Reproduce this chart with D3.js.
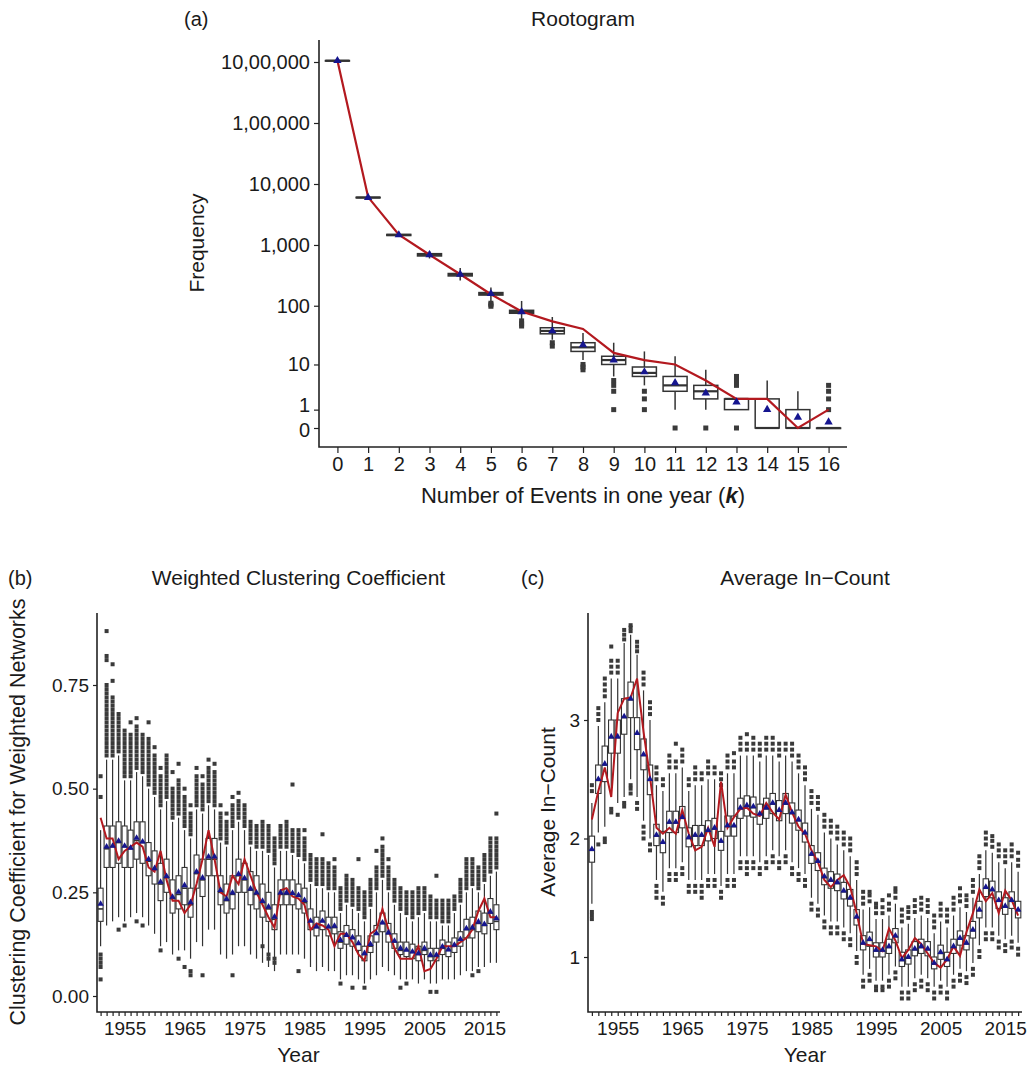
<!DOCTYPE html>
<html><head><meta charset="utf-8">
<script src="https://cdn.jsdelivr.net/npm/d3@7"></script>
<style>body{margin:0;background:#fff}svg text{font-family:"Liberation Sans",Arial,Helvetica,sans-serif;fill:#1a1a1a}</style>
</head><body><svg id="c" width="1034" height="1067"></svg>
<script>
// ---------- Panel (a): Rootogram ----------
const kCats = [0,1,2,3,4,5,6,7,8,9,10,11,12,13,14,15,16];
const obsA  = [1060000,6100,1470,690,330,155,80,55,41,16,12,10,5,2,2,0,1];
const meanA = [1050000,6000,1460,690,330,158,79,38,22,12,7.3,4.5,2.75,1.67,1,0.5,0.25];
const q1A   = [1045000,5950,1430,660,310,150,75,34,17,10,6,3,2,1,0,0,0];
const medA  = [1050000,6000,1460,690,325,157,79,38,20,12,7,4,3,2,0,0,0];
const q3A   = [1055000,6050,1490,720,340,165,84,43,24,14,9,6,4,2,2,1,0];
const loA   = [1040000,5800,1380,600,260,120,60,27,12,6,4,1,1,1,0,0,0];
const hiA   = [1060000,6250,1550,800,420,200,120,65,35,24,17,14,8,2,5,3,0];
const outA  = [[],[],[],[],[],[110,104,98],[56,50,46],[24,21],[10,9,8],[5,4,3,1],[3,2,1],[0],[0],[6,5,4,0],[],[],[4,3,2,1]];
const yTickValsA = [0,1,10,100,1000,10000,100000,1000000];
const yTickLabsA = ["0","1","10","100","1,000","10,000","1,00,000","10,00,000"];

// ---------- Panel (b): Weighted Clustering Coefficient ----------
const years = d3.range(1951, 2018);
const yearLabels = [1955,1965,1975,1985,1995,2005,2015];
const meanB = [0.222,0.360,0.362,0.374,0.362,0.357,0.381,0.372,0.330,0.308,0.275,0.289,0.239,0.251,0.267,0.226,0.300,0.285,0.336,0.336,0.255,0.234,0.249,0.294,0.284,0.259,0.249,0.229,0.215,0.191,0.249,0.249,0.248,0.243,
0.231,0.181,0.167,0.181,0.167,0.169,0.135,0.147,0.141,0.127,0.103,0.125,0.151,0.177,0.153,0.133,0.115,0.111,0.107,0.103,0.115,0.099,0.099,0.119,0.112,0.123,0.137,0.163,0.165,0.179,0.173,0.203,0.187];
const q1B = [0.18,0.31,0.31,0.32,0.31,0.31,0.33,0.32,0.29,0.27,0.23,0.25,0.20,0.21,0.22,0.19,0.26,0.24,0.29,0.29,0.22,0.20,0.21,0.25,0.25,0.22,0.21,0.19,0.18,0.16,0.22,0.22,0.22,0.21,
0.20,0.16,0.145,0.16,0.145,0.15,0.115,0.125,0.12,0.11,0.085,0.105,0.13,0.155,0.13,0.115,0.10,0.095,0.09,0.085,0.10,0.085,0.085,0.10,0.095,0.105,0.12,0.14,0.14,0.155,0.15,0.175,0.16];
const medB = [0.21,0.355,0.36,0.37,0.36,0.355,0.375,0.37,0.325,0.305,0.27,0.285,0.235,0.245,0.26,0.22,0.295,0.28,0.33,0.33,0.25,0.23,0.245,0.29,0.28,0.255,0.245,0.225,0.21,0.185,0.245,0.245,0.245,0.24,
0.225,0.18,0.165,0.18,0.165,0.165,0.13,0.145,0.14,0.125,0.10,0.12,0.15,0.175,0.15,0.13,0.11,0.11,0.105,0.10,0.11,0.095,0.095,0.115,0.11,0.12,0.135,0.16,0.16,0.175,0.17,0.20,0.18];
const q3B = [0.26,0.41,0.41,0.42,0.41,0.40,0.42,0.42,0.37,0.35,0.32,0.33,0.28,0.29,0.31,0.26,0.34,0.33,0.38,0.38,0.29,0.27,0.29,0.33,0.32,0.30,0.29,0.27,0.25,0.22,0.28,0.28,0.28,0.27,
0.26,0.21,0.19,0.205,0.19,0.19,0.155,0.17,0.16,0.145,0.12,0.145,0.17,0.20,0.175,0.15,0.13,0.13,0.125,0.12,0.13,0.115,0.115,0.135,0.13,0.14,0.155,0.185,0.19,0.205,0.20,0.235,0.22];
const loB = [0.12,0.17,0.18,0.19,0.18,0.19,0.20,0.19,0.17,0.15,0.12,0.13,0.10,0.11,0.11,0.09,0.13,0.12,0.16,0.16,0.10,0.09,0.10,0.12,0.12,0.10,0.09,0.08,0.07,0.06,0.10,0.10,0.10,0.10,
0.09,0.07,0.06,0.07,0.06,0.06,0.04,0.05,0.05,0.04,0.03,0.04,0.05,0.07,0.06,0.05,0.04,0.04,0.04,0.03,0.04,0.03,0.03,0.04,0.04,0.04,0.05,0.06,0.06,0.07,0.07,0.08,0.08];
const hiB = [0.40,0.57,0.57,0.58,0.52,0.52,0.54,0.53,0.50,0.48,0.45,0.47,0.42,0.43,0.40,0.38,0.45,0.44,0.46,0.45,0.37,0.36,0.40,0.42,0.40,0.36,0.35,0.35,0.34,0.31,0.35,0.35,0.34,0.33,
0.32,0.27,0.26,0.26,0.25,0.25,0.20,0.22,0.21,0.20,0.18,0.21,0.25,0.28,0.25,0.22,0.20,0.19,0.18,0.19,0.20,0.18,0.18,0.17,0.17,0.20,0.22,0.25,0.26,0.25,0.27,0.29,0.30];
const obsB = [0.43,0.38,0.38,0.33,0.35,0.36,0.37,0.36,0.31,0.30,0.35,0.28,0.23,0.23,0.20,0.22,0.27,0.33,0.40,0.33,0.25,0.24,0.29,0.27,0.33,0.29,0.25,0.22,0.19,0.165,0.255,0.26,0.24,0.235,
0.22,0.16,0.175,0.17,0.16,0.12,0.15,0.15,0.13,0.10,0.085,0.15,0.16,0.21,0.16,0.115,0.09,0.09,0.09,0.12,0.06,0.065,0.09,0.12,0.12,0.12,0.13,0.14,0.16,0.205,0.235,0.19,0.19];
const outB = [
[0.53,0.48,0.10,0.09,0.08,0.07,0.04],
[0.88,0.82,0.81,0.75,0.74,0.73,0.72,0.71,0.70,0.69,0.68,0.67,0.66,0.65,0.64,0.63,0.62,0.61,0.60,0.59,0.58],
[0.80,0.76,0.72,0.71,0.70,0.69,0.68,0.67,0.66,0.65,0.64,0.63,0.62,0.61,0.60,0.59,0.58],
[0.68,0.67,0.66,0.65,0.64,0.63,0.62,0.61,0.60,0.59,0.16],
[0.64,0.63,0.62,0.61,0.60,0.59,0.58,0.57,0.56,0.55,0.54,0.53,0.17],
[0.66,0.63,0.62,0.61,0.60,0.59,0.58,0.57,0.56,0.55,0.54,0.53],
[0.67,0.65,0.64,0.63,0.62,0.61,0.60,0.59,0.58,0.57,0.56,0.55,0.18],
[0.63,0.62,0.61,0.60,0.59,0.58,0.57,0.56,0.55,0.54,0.17],
[0.66,0.62,0.61,0.60,0.59,0.58,0.57,0.56,0.55,0.54,0.53,0.52,0.51],
[0.60,0.58,0.57,0.56,0.55,0.54,0.53,0.52,0.51,0.50,0.49],
[0.55,0.53,0.52,0.51,0.50,0.49,0.48,0.47,0.46,0.11],
[0.58,0.57,0.56,0.55,0.54,0.53,0.52,0.51,0.50,0.49,0.48],
[0.54,0.50,0.49,0.48,0.47,0.46,0.45,0.44,0.43],
[0.56,0.52,0.51,0.50,0.49,0.48,0.47,0.46,0.45,0.44,0.09],
[0.50,0.48,0.47,0.46,0.45,0.44,0.43,0.42,0.41,0.07],
[0.46,0.44,0.43,0.42,0.41,0.40,0.39,0.06,0.05],
[0.55,0.53,0.52,0.51,0.50,0.49,0.48,0.47,0.46],
[0.53,0.51,0.50,0.49,0.48,0.47,0.46,0.45,0.05],
[0.57,0.55,0.54,0.53,0.52,0.51,0.50,0.49,0.48,0.47],
[0.56,0.54,0.53,0.52,0.51,0.50,0.49,0.48,0.47,0.46],
[0.46,0.44,0.43,0.42,0.41,0.40,0.39,0.38],
[0.44,0.42,0.41,0.40,0.39,0.38,0.37],
[0.48,0.46,0.45,0.44,0.43,0.42,0.41,0.05],
[0.49,0.47,0.46,0.45,0.44,0.43],
[0.46,0.45,0.44,0.43,0.42,0.41],
[0.42,0.41,0.40,0.39,0.38,0.37],
[0.41,0.40,0.39,0.38,0.37,0.36],
[0.42,0.41,0.40,0.39,0.38,0.37,0.36,0.12],
[0.41,0.40,0.39,0.38,0.37,0.36,0.35,0.10,0.09],
[0.38,0.37,0.36,0.35,0.34,0.33,0.32,0.09,0.08],
[0.41,0.40,0.39,0.38,0.37,0.36],
[0.42,0.41,0.40,0.39,0.38,0.37,0.36],
[0.51,0.40,0.39,0.38,0.37,0.36,0.35],
[0.40,0.39,0.38,0.37,0.36,0.35,0.34,0.06],
[0.40,0.38,0.37,0.36,0.35,0.34,0.33],
[0.34,0.33,0.32,0.31,0.30,0.29,0.28],
[0.33,0.32,0.31,0.30,0.29,0.28,0.27],
[0.39,0.33,0.32,0.31,0.30,0.29,0.28,0.27],
[0.32,0.31,0.30,0.29,0.28,0.27,0.26],
[0.33,0.31,0.30,0.29,0.28,0.27,0.26],
[0.26,0.25,0.24,0.23,0.22,0.21,0.03],
[0.29,0.28,0.27,0.26,0.25,0.24,0.23],
[0.28,0.27,0.26,0.25,0.24,0.23,0.22,0.02],
[0.33,0.26,0.25,0.24,0.23,0.22,0.21],
[0.25,0.24,0.23,0.22,0.21,0.20,0.19,0.02],
[0.28,0.27,0.26,0.25,0.24,0.23,0.22],
[0.35,0.31,0.30,0.29,0.28,0.27,0.26],
[0.38,0.36,0.35,0.34,0.33,0.32,0.31,0.30,0.29],
[0.33,0.31,0.30,0.29,0.28,0.27,0.26],
[0.28,0.27,0.26,0.25,0.24,0.23],
[0.26,0.25,0.24,0.23,0.22,0.21,0.02],
[0.25,0.24,0.23,0.22,0.21,0.20,0.03],
[0.25,0.24,0.23,0.22,0.21,0.20,0.19],
[0.26,0.25,0.24,0.23,0.22,0.21,0.20],
[0.26,0.25,0.24,0.23,0.22,0.21],
[0.24,0.23,0.22,0.21,0.20,0.19,0.01],
[0.29,0.23,0.22,0.21,0.20,0.19,0.01],
[0.23,0.22,0.21,0.20,0.19,0.18],
[0.23,0.22,0.21,0.20,0.19,0.18],
[0.24,0.23,0.22,0.21],
[0.28,0.27,0.26,0.25,0.24,0.23],
[0.33,0.32,0.31,0.30,0.29,0.28,0.27,0.26],
[0.33,0.32,0.31,0.30,0.29,0.28,0.27,0.05],
[0.31,0.30,0.29,0.28,0.27,0.26,0.06],
[0.34,0.33,0.32,0.31,0.30,0.29,0.28],
[0.38,0.37,0.36,0.35,0.34,0.33,0.32,0.31,0.30],
[0.44,0.38,0.37,0.36,0.35,0.34,0.33,0.32,0.31]];
const yTickValsB = [0,0.25,0.5,0.75];
const yTickLabsB = ["0.00","0.25","0.50","0.75"];

// ---------- Panel (c): Average In-Count ----------
const meanC = [1.91,2.50,2.63,2.86,2.86,3.03,3.18,2.89,2.71,2.50,2.03,1.97,2.14,2.14,2.18,2.01,2.03,2.03,2.07,2.09,1.98,2.11,2.11,2.26,2.28,2.27,2.21,2.26,2.30,2.24,
2.30,2.22,2.16,2.05,1.87,1.81,1.68,1.65,1.63,1.56,1.50,1.34,1.12,1.15,1.06,1.06,1.09,1.18,0.98,1.00,1.07,1.09,1.07,0.95,1.04,0.98,1.09,1.16,1.12,1.23,1.40,1.59,1.57,1.48,1.43,1.48,1.40];
const q1C = [1.80,2.38,2.48,2.72,2.72,2.88,3.02,2.75,2.58,2.37,1.94,1.88,2.05,2.05,2.09,1.93,1.94,1.94,1.98,2.00,1.90,2.02,2.02,2.17,2.19,2.18,2.12,2.17,2.21,2.15,
2.21,2.13,2.07,1.97,1.79,1.73,1.61,1.58,1.56,1.49,1.43,1.27,1.06,1.09,1.00,1.00,1.03,1.12,0.92,0.94,1.01,1.03,1.01,0.90,0.98,0.92,1.03,1.10,1.06,1.16,1.33,1.51,1.50,1.41,1.36,1.41,1.33];
const medC = [1.90,2.49,2.62,2.85,2.85,3.02,3.17,2.88,2.70,2.49,2.02,1.96,2.13,2.13,2.17,2.00,2.02,2.02,2.06,2.08,1.97,2.10,2.10,2.25,2.27,2.26,2.20,2.25,2.29,2.23,
2.29,2.21,2.15,2.04,1.86,1.80,1.67,1.64,1.62,1.55,1.49,1.33,1.11,1.14,1.05,1.05,1.08,1.17,0.97,0.99,1.06,1.08,1.06,0.94,1.03,0.97,1.08,1.15,1.11,1.22,1.39,1.58,1.56,1.47,1.42,1.47,1.39];
const q3C = [2.02,2.62,2.78,3.00,3.00,3.18,3.32,3.02,2.84,2.62,2.12,2.06,2.23,2.23,2.27,2.09,2.11,2.11,2.15,2.17,2.06,2.19,2.19,2.34,2.36,2.35,2.29,2.34,2.38,2.32,
2.38,2.30,2.24,2.13,1.94,1.88,1.75,1.72,1.70,1.63,1.57,1.40,1.18,1.21,1.12,1.12,1.15,1.24,1.04,1.06,1.13,1.15,1.13,1.00,1.10,1.04,1.15,1.22,1.18,1.30,1.47,1.66,1.64,1.55,1.50,1.55,1.47];
const loC = [1.45,2.05,2.10,2.35,2.30,2.35,2.50,2.35,2.15,2.00,1.65,1.55,1.75,1.75,1.80,1.65,1.65,1.65,1.70,1.70,1.60,1.70,1.70,1.85,1.85,1.85,1.80,1.85,1.90,1.85,
1.90,1.80,1.75,1.70,1.50,1.45,1.35,1.30,1.30,1.25,1.20,1.05,0.85,0.90,0.80,0.80,0.85,0.92,0.75,0.75,0.82,0.85,0.82,0.75,0.80,0.75,0.85,0.90,0.88,0.95,1.10,1.25,1.25,1.18,1.15,1.18,1.12];
const hiC = [2.30,2.95,3.15,3.35,3.35,3.65,3.72,3.55,3.25,3.00,2.45,2.40,2.55,2.55,2.60,2.40,2.45,2.45,2.50,2.50,2.40,2.55,2.55,2.70,2.70,2.70,2.65,2.70,2.70,2.65,
2.70,2.65,2.55,2.45,2.25,2.20,2.05,2.00,1.95,1.90,1.85,1.65,1.40,1.42,1.32,1.32,1.35,1.45,1.25,1.28,1.33,1.35,1.33,1.20,1.30,1.25,1.35,1.42,1.38,1.50,1.70,1.90,1.88,1.80,1.75,1.80,1.72];
const obsC = [2.16,2.40,2.60,2.35,3.06,3.18,3.19,3.35,2.90,2.52,2.09,2.04,2.09,2.04,2.24,2.04,1.90,1.93,2.09,1.93,2.48,2.09,2.18,2.25,2.26,2.21,2.19,2.30,2.22,2.16,
2.37,2.22,2.10,2.04,1.90,1.80,1.65,1.59,1.65,1.69,1.59,1.37,1.11,1.10,1.09,1.05,1.24,1.14,0.99,1.06,1.16,1.11,1.03,0.95,0.91,0.98,1.09,1.01,1.21,1.37,1.57,1.47,1.54,1.37,1.56,1.48,1.35];
const outC = [
[1.38,1.35,1.32,2.40,2.45],[3.00,3.05,3.10,1.95],[3.20,3.25,3.30,3.35,2.00,1.97],[3.40,3.45,3.50,3.62,2.25,2.22],[3.40,3.45,3.50,2.20],
[3.68,3.72,3.76,2.30,2.27],[3.75,3.78,3.80,2.45,2.42,2.38],[3.58,3.62,3.66,2.30,2.25],[3.30,3.35,3.40,2.10,2.05,2.00],[3.05,3.10,3.15,1.95,1.90],
[2.50,2.55,2.60,1.60,1.55,1.50],[2.45,2.50,1.50,1.45],[2.60,2.65,2.70,1.70,1.65],[2.60,2.65,2.80,1.70,1.65],[2.65,2.70,2.75,1.75,1.70],
[2.45,2.50,1.60,1.55],[2.50,2.55,2.60,1.60,1.55],[2.50,2.55,1.60,1.55,1.50],[2.55,2.60,2.65,1.65,1.60],[2.55,2.60,1.65,1.60],
[2.45,2.50,2.55,1.55,1.50],[2.60,2.65,2.70,1.65,1.60],[2.60,2.65,2.72,1.65,1.60],[2.75,2.80,2.85,1.80,1.75],[2.75,2.80,2.88,1.80,1.75,1.70],
[2.75,2.80,2.85,1.80,1.75],[2.70,2.75,2.80,1.75,1.70],[2.75,2.80,2.85,1.80,1.75],[2.75,2.80,2.85,1.85,1.80],[2.70,2.75,2.80,1.80,1.75],
[2.75,2.80,1.85,1.80],[2.70,2.75,2.80,1.75,1.70],[2.60,2.65,2.70,1.70,1.65],[2.50,2.55,2.60,1.65,1.60],[2.30,2.35,2.40,1.45,1.40],
[2.25,2.30,2.35,1.40,1.35],[2.10,2.15,2.20,1.30,1.25],[2.05,2.10,2.15,1.25,1.20],[2.00,2.05,2.10,1.25,1.20],[1.95,2.00,2.05,1.20,1.15],
[1.90,1.95,2.00,1.15,1.10],[1.70,1.75,1.80,1.00,0.95],[1.45,1.50,1.55,0.80,0.75],[1.47,1.52,1.55,0.85,0.80],[1.37,1.42,1.45,0.75,0.72],
[1.37,1.42,1.48,0.75,0.72],[1.40,1.45,1.52,0.80,0.75],[1.50,1.55,1.58,0.87,0.82],[1.30,1.35,1.40,0.70,0.65],[1.33,1.38,1.42,0.70,0.65],
[1.38,1.43,1.48,0.77,0.72],[1.40,1.45,1.50,0.80,0.75],[1.38,1.43,1.48,0.77,0.72],[1.25,1.30,1.35,0.70,0.65],[1.35,1.40,1.45,0.75,0.70],
[1.30,1.35,1.40,0.70,0.65],[1.40,1.45,1.50,0.80,0.75],[1.47,1.52,1.58,0.85,0.80],[1.43,1.48,1.52,0.83,0.78],[1.55,1.60,1.65,0.90,0.85],
[1.75,1.80,1.85,1.05,1.00],[1.95,2.00,2.05,1.20,1.15],[1.93,1.98,2.02,1.20,1.15],[1.85,1.90,1.95,1.13,1.08],[1.80,1.85,1.90,1.10,1.05],
[1.85,1.90,1.95,1.13,1.08],[1.77,1.82,1.88,1.07,1.02]];
const yTickValsC = [1,2,3];
const yTickLabsC = ["1","2","3"];

// ---------- drawing ----------
const svg = d3.select("#c");
const BOX = "#333333", OUT = "#3a3a3a", RED = "#B3191F", BLUE = "#15158f";

function styleAxis(g, fs) {
  g.select(".domain").remove();
  g.selectAll(".tick line").attr("stroke", "#222").attr("stroke-width", 1.2);
  g.selectAll(".tick text").attr("font-size", fs).attr("fill", "#1a1a1a");
}
function frame(x0, x1, yTop, yBot) {
  svg.append("path").attr("d", `M${x0},${yTop}V${yBot}H${x1}`).attr("fill", "none")
    .attr("stroke", "#222").attr("stroke-width", 1.6);
}

// Panel (a)
(function () {
  const x = d3.scalePoint().domain(kCats).range([319, 847]).padding(0.6);
  const y = d3.scaleSymlog().constant(1).domain([0, 1000000]).range([428, 62]);
  const g = svg.append("g");
  const st = kCats.map((k, i) => ({ k, lo: loA[i], q1: q1A[i], med: medA[i], q3: q3A[i], hi: hiA[i], mean: meanA[i], obs: obsA[i] }));
  const bw = 24;
  g.selectAll(".w").data(st).join("line").attr("x1", d => x(d.k)).attr("x2", d => x(d.k))
    .attr("y1", d => y(d.lo)).attr("y2", d => y(d.hi)).attr("stroke", BOX).attr("stroke-width", 1.5);
  g.selectAll(".b").data(st).join("rect").attr("x", d => x(d.k) - bw / 2).attr("y", d => y(d.q3))
    .attr("width", bw).attr("height", d => Math.max(0.5, y(d.q1) - y(d.q3)))
    .attr("fill", "#fff").attr("stroke", BOX).attr("stroke-width", 1.5);
  g.selectAll(".m").data(st).join("line").attr("x1", d => x(d.k) - bw / 2).attr("x2", d => x(d.k) + bw / 2)
    .attr("y1", d => y(d.med)).attr("y2", d => y(d.med)).attr("stroke", BOX).attr("stroke-width", 2.2);
  const outs = [];
  outA.forEach((arr, i) => arr.forEach(v => outs.push({ k: kCats[i], v })));
  g.selectAll(".o").data(outs).join("rect").attr("x", d => x(d.k) - 2.5).attr("y", d => y(d.v) - 2.5)
    .attr("width", 5).attr("height", 5).attr("fill", OUT);
  g.append("path").datum(st).attr("fill", "none").attr("stroke", RED).attr("stroke-width", 2.2)
    .attr("d", d3.line().x(d => x(d.k)).y(d => y(d.obs)));
  g.selectAll(".t").data(st).join("path").attr("d", d3.symbol().type(d3.symbolTriangle).size(30))
    .attr("transform", d => `translate(${x(d.k)},${y(d.mean)})`).attr("fill", BLUE);
  frame(319, 847, 40, 447);
  const ay = svg.append("g").attr("transform", "translate(319,0)")
    .call(d3.axisLeft(y).tickValues(yTickValsA).tickFormat((d, i) => yTickLabsA[i]).tickSize(5).tickPadding(4));
  styleAxis(ay, 20);
  // the "1" and "0" ticks sit very close: nudge their labels apart slightly
  ay.selectAll(".tick text").attr("dy", d => d === 1 ? "0.1em" : d === 0 ? "0.42em" : "0.32em");
  const ax = svg.append("g").attr("transform", "translate(0,447)")
    .call(d3.axisBottom(x).tickSize(6).tickPadding(4));
  styleAxis(ax, 20);
  svg.append("text").attr("x", 184).attr("y", 26).attr("font-size", 20).text("(a)");
  svg.append("text").attr("x", 583).attr("y", 26).attr("text-anchor", "middle").attr("font-size", 21).text("Rootogram");
  const xl = svg.append("text").attr("x", 583).attr("y", 503).attr("text-anchor", "middle").attr("font-size", 22);
  xl.append("tspan").text("Number of Events in one year (");
  xl.append("tspan").attr("font-style", "italic").attr("font-weight", "bold").text("k");
  xl.append("tspan").text(")");
  svg.append("text").attr("transform", "translate(204,243) rotate(-90)").attr("text-anchor", "middle")
    .attr("font-size", 21).text("Frequency");
})();

function boxPanel(o) {
  const x = d3.scalePoint().domain(years).range([o.x0, o.x1]).padding(0.6);
  const y = d3.scaleLinear().domain(o.yDom).range(o.yRng);
  const g = svg.append("g");
  const st = years.map((yr, i) => ({ yr, lo: o.lo[i], q1: o.q1[i], med: o.med[i], q3: o.q3[i], hi: o.hi[i], mean: o.mean[i], obs: o.obs[i] }));
  const bw = o.bw;
  g.selectAll(".w").data(st).join("line").attr("x1", d => x(d.yr)).attr("x2", d => x(d.yr))
    .attr("y1", d => y(d.lo)).attr("y2", d => y(d.hi)).attr("stroke", BOX).attr("stroke-width", 1.2);
  g.selectAll(".b").data(st).join("rect").attr("x", d => x(d.yr) - bw / 2).attr("y", d => y(d.q3))
    .attr("width", bw).attr("height", d => y(d.q1) - y(d.q3))
    .attr("fill", "#fff").attr("stroke", BOX).attr("stroke-width", 1.1);
  g.selectAll(".m").data(st).join("line").attr("x1", d => x(d.yr) - bw / 2).attr("x2", d => x(d.yr) + bw / 2)
    .attr("y1", d => y(d.med)).attr("y2", d => y(d.med)).attr("stroke", BOX).attr("stroke-width", 1.6);
  const outs = [];
  o.out.forEach((arr, i) => arr.forEach(v => outs.push({ yr: years[i], v })));
  g.selectAll(".o").data(outs).join("rect").attr("x", d => x(d.yr) - 2).attr("y", d => y(d.v) - 2)
    .attr("width", 4).attr("height", 4).attr("fill", OUT);
  g.append("path").datum(st).attr("fill", "none").attr("stroke", RED).attr("stroke-width", 2)
    .attr("d", d3.line().x(d => x(d.yr)).y(d => y(d.obs)));
  g.selectAll(".t").data(st).join("path").attr("d", d3.symbol().type(d3.symbolTriangle).size(18))
    .attr("transform", d => `translate(${x(d.yr)},${y(d.mean)})`).attr("fill", BLUE);
  frame(o.x0, o.x1, 613, 1012);
  const ay = svg.append("g").attr("transform", `translate(${o.x0},0)`)
    .call(d3.axisLeft(y).tickValues(o.tv).tickFormat((d, i) => o.tl[i]).tickSize(4).tickPadding(4));
  styleAxis(ay, 19);
  const ax = svg.append("g").attr("transform", "translate(0,1012)")
    .call(d3.axisBottom(x).tickSize(4).tickPadding(6).tickFormat(d => yearLabels.includes(d) ? String(d) : ""));
  styleAxis(ax, 19);
  const cx = (o.x0 + o.x1) / 2;
  svg.append("text").attr("x", o.lx).attr("y", 585).attr("font-size", 20).text(o.letter);
  svg.append("text").attr("x", cx).attr("y", 585).attr("text-anchor", "middle").attr("font-size", 21).text(o.title);
  svg.append("text").attr("x", cx).attr("y", 1062).attr("text-anchor", "middle").attr("font-size", 21).text("Year");
  svg.append("text").attr("transform", `translate(${o.ytx},812) rotate(-90)`).attr("text-anchor", "middle")
    .attr("font-size", o.yfs).text(o.ytitle);
}

boxPanel({ x0: 97, x1: 500, yDom: [0, 0.75], yRng: [996, 685], bw: 5,
  lo: loB, q1: q1B, med: medB, q3: q3B, hi: hiB, mean: meanB, obs: obsB, out: outB,
  tv: yTickValsB, tl: yTickLabsB, letter: "(b)", lx: 8, title: "Weighted Clustering Coefficient",
  ytitle: "Clustering Coefficient for Weighted Networks", ytx: 25, yfs: 21.5 });
boxPanel({ x0: 588, x1: 1022, yDom: [1, 3], yRng: [957, 720], bw: 5.4,
  lo: loC, q1: q1C, med: medC, q3: q3C, hi: hiC, mean: meanC, obs: obsC, out: outC,
  tv: yTickValsC, tl: yTickLabsC, letter: "(c)", lx: 521, title: "Average In\u2212Count",
  ytitle: "Average In\u2212Count", ytx: 555, yfs: 21 });
</script></body></html>
